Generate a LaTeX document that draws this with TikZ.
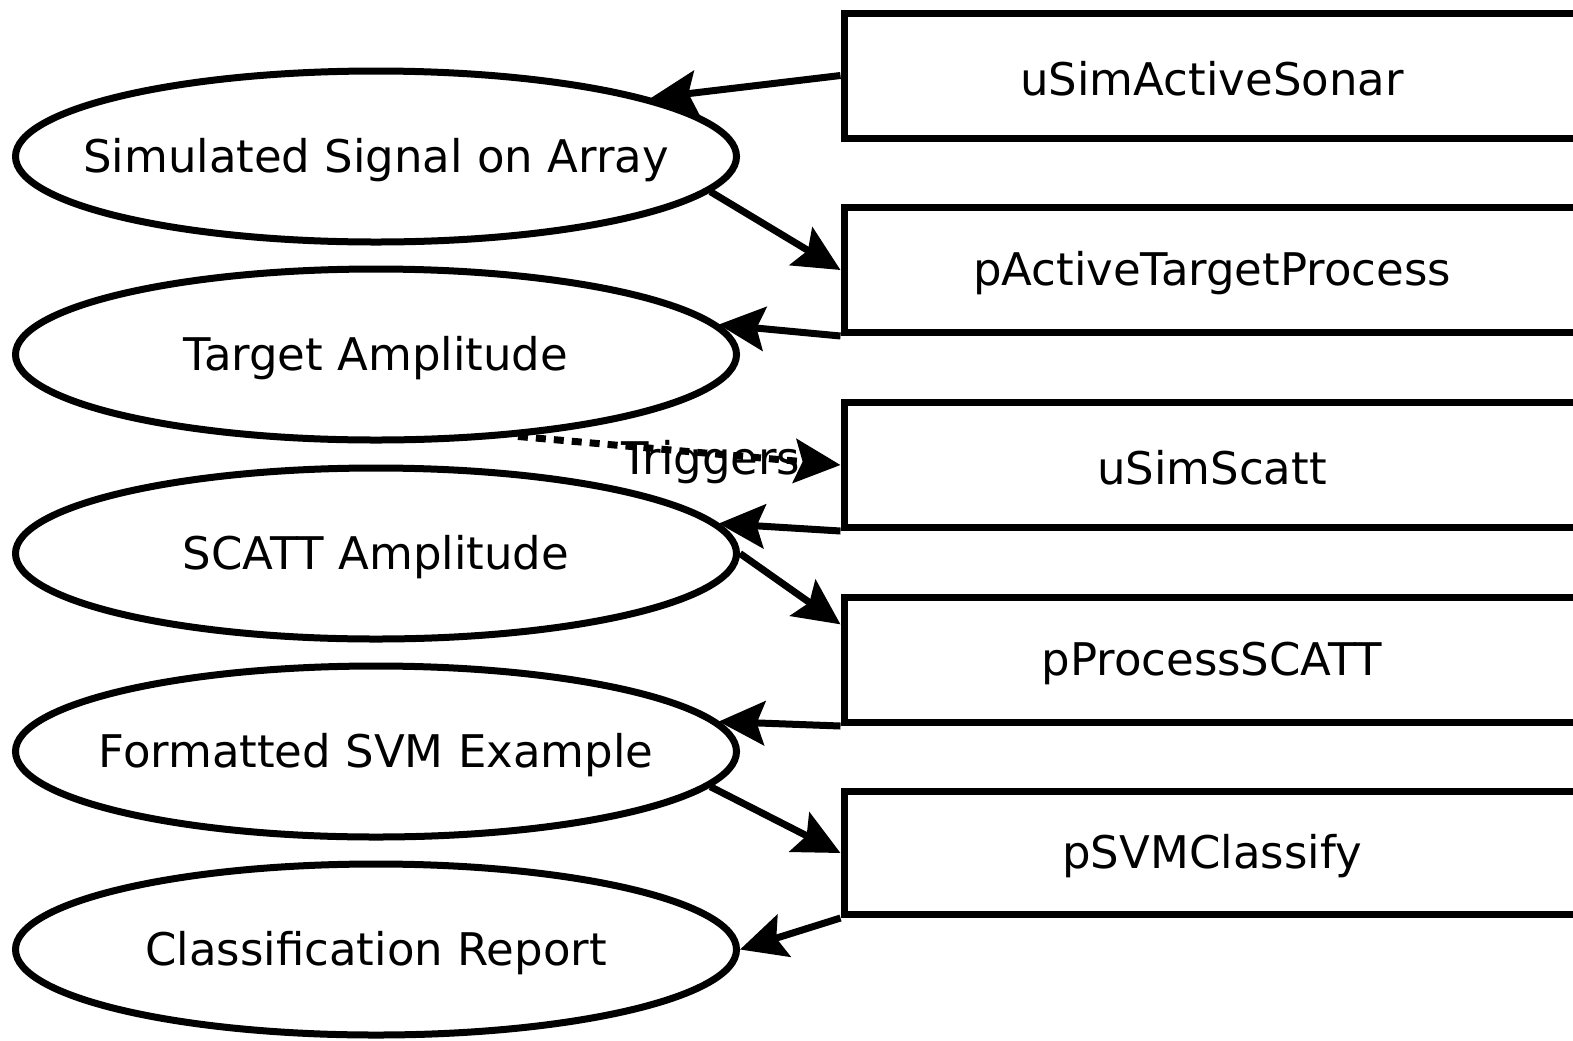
\documentclass[tikz,border=0pt]{standalone}
\usepackage{fontspec}
\setmainfont{DejaVu Sans}
\usetikzlibrary{shapes.geometric,arrows.meta,calc}
\newcommand\mylbl[1]{\raisebox{-1.6pt}[\height][\depth]{#1}}
\begin{document}
\begin{tikzpicture}[x=0.5pt,y=-0.5pt,
  every node/.style={font=\fontsize{22.5pt}{27pt}\selectfont},
  ell/.style={ellipse,draw,line width=3.5pt,minimum width=360.5pt,minimum height=85.5pt,inner sep=0pt},
  box/.style={rectangle,draw,line width=3.5pt,minimum width=368pt,minimum height=62.5pt,inner sep=0pt},
  conn/.style={line width=3.5pt,-{Stealth[length=23pt,width=22pt,inset=4pt]}},
  dashconn/.style={conn,dash pattern=on 5pt off 4pt}
]
\useasboundingbox (0,0) rectangle (1573,1040);
\node[ell] (e1) at (376,156.5) {\makebox[0pt]{\mylbl{Simulated Signal on Array}}};
\node[ell] (e2) at (376,354.5) {\makebox[0pt]{\mylbl{Target Amplitude}}};
\node[ell] (e3) at (376,553.5) {\makebox[0pt]{\mylbl{SCATT Amplitude}}};
\node[ell] (e4) at (376,751.5) {\makebox[0pt]{\mylbl{Formatted SVM Example}}};
\node[ell] (e5) at (376,949.5) {\makebox[0pt]{\mylbl{Classification Report}}};
\node[box] (b1) at (1212,75.5) {\mylbl{uSimActiveSonar}};
\node[box] (b2) at (1212,270) {\mylbl{pActiveTargetProcess}};
\node[box] (b3) at (1212,465) {\mylbl{uSimScatt}};
\node[box] (b4) at (1212,660) {\mylbl{pProcessSCATT}};
\node[box,minimum height=61.5pt] (b5) at (1212,853) {\mylbl{pSVMClassify}};
\draw[conn] (b1.west) -- (e1.12.8);
\draw[conn] (e1.-6) -- (b2.west);
\draw[conn] (b2.south west) -- (e2.5.4);
\draw[dashconn] (e2.-30.8) -- (b3.west);
\draw[conn] (b3.south west) -- (e3.5.2);
\draw[conn] (e3.east) -- ($(b4.north west)!0.23!(b4.south west)$);
\draw[conn] (b4.south west) -- (e4.5.7);
\draw[conn] (e4.-6.3) -- (b5.west);
\draw[conn] (b5.south west) -- (e5.east);
\node (trig) at (711,462) {Triggers};
\end{tikzpicture}
\end{document}
